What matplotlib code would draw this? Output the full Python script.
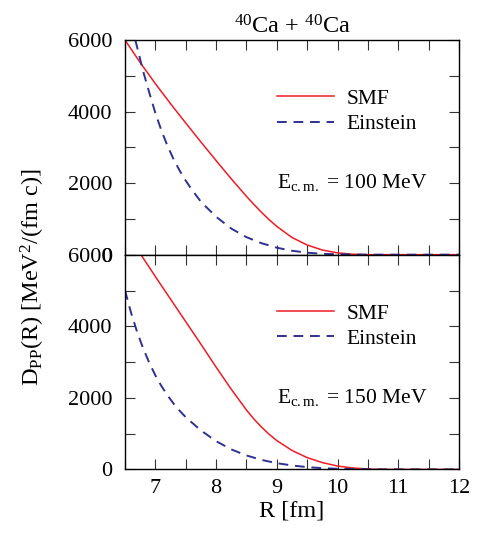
import numpy as np
import matplotlib
matplotlib.use("Agg")
import matplotlib.pyplot as plt

plt.rcParams['font.family'] = ['Liberation Serif', 'DejaVu Serif']
plt.rcParams['mathtext.fontset'] = 'custom'
plt.rcParams['mathtext.rm'] = 'Liberation Serif'
plt.rcParams['mathtext.it'] = 'Liberation Serif:italic'

# E_cm = 100 MeV panel
r_smf_100 = [6.5, 6.75, 7.0, 7.25, 7.5, 7.75, 8.0, 8.25, 8.5, 8.625, 8.75, 8.875, 9.0, 9.25, 9.5, 9.75, 10.0, 10.25, 10.5, 12.0]
d_smf_100 = [6000, 5370, 4780, 4220, 3680, 3150, 2630, 2120, 1630, 1400, 1180, 975, 790, 480, 270, 130, 50, 12, 0, 0]
r_ein_100 = [6.67, 6.7, 6.8, 6.9, 7.0, 7.1, 7.2, 7.3, 7.4, 7.5, 7.6, 7.75, 8.0, 8.25, 8.5, 8.75, 9.0, 9.25, 9.5, 9.75, 10.0, 10.5, 12.0]
d_ein_100 = [6000, 5800, 5120, 4530, 3960, 3470, 3040, 2670, 2350, 2070, 1820, 1480, 1060, 730, 490, 320, 195, 110, 55, 25, 10, 0, 0]

# E_cm = 150 MeV panel
r_smf_150 = [6.75, 7.0, 7.25, 7.5, 7.75, 8.0, 8.25, 8.5, 8.625, 8.75, 8.875, 9.0, 9.25, 9.5, 9.75, 10.0, 10.25, 10.5, 10.75, 12.0]
d_smf_150 = [6035, 5390, 4760, 4130, 3500, 2860, 2240, 1660, 1405, 1180, 980, 805, 530, 330, 190, 95, 40, 12, 0, 0]
r_ein_150 = [6.5, 6.6, 6.7, 6.8, 6.9, 7.0, 7.1, 7.2, 7.3, 7.4, 7.5, 7.75, 8.0, 8.25, 8.5, 8.75, 9.0, 9.25, 9.5, 9.75, 10.0, 10.5, 11.0, 12.0]
d_ein_150 = [5005, 4380, 3840, 3380, 2980, 2630, 2330, 2070, 1840, 1640, 1460, 1090, 790, 560, 390, 265, 175, 110, 65, 35, 17, 3, 0, 0]

energies = ['100', '150']
red = '#ee1c24'
blue = '#2e3192'

fig = plt.figure(figsize=(4.82, 5.39), dpi=100)
ax_top = fig.add_axes([0.2593, 0.5275, 0.693, 0.3983])
ax_bot = fig.add_axes([0.2593, 0.1291, 0.693, 0.3983])

panels = [(ax_top, r_smf_100, d_smf_100, r_ein_100, d_ein_100),
          (ax_bot, r_smf_150, d_smf_150, r_ein_150, d_ein_150)]

for (ax, rs, ds, re, de), e in zip(panels, energies):
    ax.plot(rs, ds, color=red, lw=1.1, label='SMF')
    ax.plot(re, de, color=blue, lw=1.4, dashes=(5, 3.5), label='Einstein')
    ax.set_xlim(6.5, 12)
    ax.set_ylim(0, 6000)
    ax.set_yticks([0, 2000, 4000, 6000])
    ax.set_yticks([1000, 3000, 5000], minor=True)
    ax.set_xticks([7, 8, 9, 10, 11, 12])
    ax.set_xticks(np.arange(6.5, 12.01, 0.5), minor=True)
    ax.tick_params(which='both', direction='in', top=True, right=True,
                   labelsize=16, color='#333333')
    ax.tick_params(axis='y', pad=9)
    ax.tick_params(axis='x', pad=7)
    ax.tick_params(which='both', length=7, width=0.8)
    for s in ax.spines.values():
        s.set_linewidth(1.0)
    ax.legend(loc='upper left', bbox_to_anchor=(0.455, 0.773), frameon=False,
              fontsize=15.5, handlelength=2.65, handletextpad=0.6,
              labelspacing=0.25, borderpad=0, borderaxespad=0)
    ax.text(0.455, 0.335, r'E$_{\rm c.m.}$ = ' + e + ' MeV', transform=ax.transAxes,
            fontsize=15.5, va='center', ha='left')

ax_top.tick_params(labelbottom=False)
ax_top.set_title(r'$^{40}$Ca + $^{40}$Ca', fontsize=17.5, pad=5)
ax_bot.set_xlabel('R [fm]', fontsize=17.5, labelpad=2)
fig.text(0.068, 0.485, r'D$_{\rm PP}$(R) [MeV$^2$/(fm c)]', rotation=90,
         fontsize=17.5, ha='center', va='center')

fig.savefig('out.png', dpi=100)
